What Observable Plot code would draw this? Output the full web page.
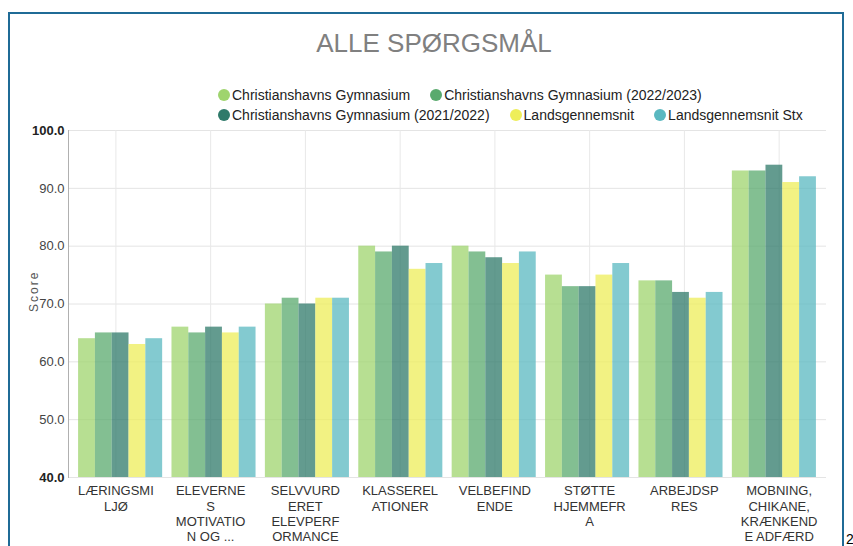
<!DOCTYPE html>
<html>
<head>
<meta charset="utf-8">
<script src="https://cdn.jsdelivr.net/npm/d3@7"></script>
<script src="https://cdn.jsdelivr.net/npm/@observablehq/plot@0.6"></script>
<style>
  html, body { margin: 0; padding: 0; background: #fff; }
  #page { position: relative; width: 853px; height: 546px; overflow: hidden; font-family: "Liberation Sans", Arial, sans-serif; }
  #frame { position: absolute; left: 8px; top: 12px; width: 832px; height: 600px; border: 2px solid #1f6b96; box-sizing: content-box; }
  #title { position: absolute; left: 0; width: 868px; top: 28px; text-align: center; font-size: 26px; line-height: 30px; color: #808080; }
  #legend { position: absolute; left: 218px; top: 85px; width: 600px; display: flex; flex-wrap: wrap; column-gap: 20px; font-size: 14px; line-height: 20px; color: #222; }
  .item { display: flex; align-items: center; white-space: nowrap; }
  .dot { width: 12px; height: 12px; border-radius: 50%; margin-right: 2px; }
  #chart { position: absolute; left: 0; top: 120px; width: 853px; height: 426px; }
  #chart svg { position: absolute; left: 0; top: 0; }
  #pnum { position: absolute; left: 846px; top: 531px; font-size: 14px; color: #000; }
  .score text { letter-spacing: 2px; }
</style>
</head>
<body>
<div id="page">
  <div id="frame"></div>
  <div id="title"></div>
  <div id="legend"></div>
  <div id="chart"></div>
  <div id="pnum">2</div>
</div>
<script>
const titleText = "ALLE SPØRGSMÅL";
const categories = [
  "LÆRINGSMILJØ",
  "ELEVERNES MOTIVATION OG ...",
  "SELVVURDERET ELEVPERFORMANCE",
  "KLASSERELATIONER",
  "VELBEFINDENDE",
  "STØTTE HJEMMEFRA",
  "ARBEJDSPRES",
  "MOBNING, CHIKANE, KRÆNKENDE ADFÆRD"
];
const tickLabels = [
  "LÆRINGSMI\nLJØ",
  "ELEVERNE\nS\nMOTIVATIO\nN OG ...",
  "SELVVURD\nERET\nELEVPERF\nORMANCE",
  "KLASSEREL\nATIONER",
  "VELBEFIND\nENDE",
  "STØTTE\nHJEMMEFR\nA",
  "ARBEJDSP\nRES",
  "MOBNING,\nCHIKANE,\nKRÆNKEND\nE ADFÆRD"
];
const seriesNames = [
  "Christianshavns Gymnasium",
  "Christianshavns Gymnasium (2022/2023)",
  "Christianshavns Gymnasium (2021/2022)",
  "Landsgennemsnit",
  "Landsgennemsnit Stx"
];
const cgAll    = [64, 66, 70, 80, 80, 75, 74, 93];
const cg2223   = [65, 65, 71, 79, 79, 73, 74, 93];
const cg2122   = [65, 66, 70, 80, 78, 73, 72, 94];
const lands    = [63, 65, 71, 76, 77, 75, 71, 91];
const landsStx = [64, 66, 71, 77, 79, 77, 72, 92];
const yTicks = [40, 50, 60, 70, 80, 90, 100];
const yLabel = "Score";
const seriesColors = ["#9fd46e", "#5aaa6e", "#2f7a6a", "#eeee5a", "#5ab8c0"];

const seriesValues = [cgAll, cg2223, cg2122, lands, landsStx];
const data = categories.flatMap((c, i) =>
  seriesNames.map((s, j) => ({category: c, series: s, value: seriesValues[j][i]}))
);
const yMin = yTicks[0], yMax = yTicks[yTicks.length - 1];
const boldTicks = [yMin, yMax];
const normalTicks = yTicks.filter(d => d !== yMin && d !== yMax);

document.getElementById("title").textContent = titleText;
const legend = document.getElementById("legend");
seriesNames.forEach((s, j) => {
  const it = document.createElement("div");
  it.className = "item";
  const dot = document.createElement("span");
  dot.className = "dot";
  dot.style.background = seriesColors[j];
  const t = document.createElement("span");
  t.textContent = s;
  it.appendChild(dot); it.appendChild(t);
  legend.appendChild(it);
});

// shared layout for both layers
const dims = {width: 853, height: 426, marginTop: 10, marginBottom: 69, marginLeft: 68, marginRight: 27};
const band = {paddingInner: 0.1, paddingOuter: 0.108, round: false};
const font = {fontFamily: '"Liberation Sans", Arial, sans-serif', fontSize: "13px", color: "#333", background: "transparent", overflow: "visible"};

// background layer: grid, axes, labels (category band scale)
const background = Plot.plot({
  ...dims,
  style: font,
  x: {domain: categories, ...band, axis: null},
  y: {domain: [yMin, yMax], axis: null},
  marks: [
    Plot.ruleY(yTicks, {stroke: "#e4e4e4", strokeWidth: 1}),
    Plot.ruleX(categories, {stroke: "#e8e8e8"}),
    Plot.frame({anchor: "left", stroke: "#b0b0b0"}),
    Plot.axisX({
      tickFormat: d => tickLabels[categories.indexOf(d)],
      tickSize: 0, tickPadding: 7, label: null, lineHeight: 1.18, fontSize: 13, fill: "#333"
    }),
    Plot.text(normalTicks, {y: d => d, text: d => d.toFixed(1), frameAnchor: "left", textAnchor: "end", dx: -4, fill: "#444", fontSize: 13}),
    Plot.text(boldTicks, {y: d => d, text: d => d.toFixed(1), frameAnchor: "left", textAnchor: "end", dx: -4, fill: "#222", fontSize: 13, fontWeight: "bold"}),
    Plot.text([yLabel], {text: d => d, frameAnchor: "left", dx: -34, dy: 8, rotate: -90, fill: "#555", fontSize: 12, className: "score"})
  ]
});

// foreground layer: grouped bars (faceted by category)
const bars = Plot.plot({
  ...dims,
  style: font,
  fx: {domain: categories, ...band, axis: null},
  x: {domain: seriesNames, axis: null, padding: 0, round: false},
  y: {domain: [yMin, yMax], axis: null},
  color: {domain: seriesNames, range: seriesColors},
  marks: [
    Plot.barY(data, {fx: "category", x: "series", y1: yMin, y2: "value", fill: "series", fillOpacity: 0.75})
  ]
});

const holder = document.getElementById("chart");
holder.appendChild(background);
holder.appendChild(bars);
</script>
</body>
</html>
